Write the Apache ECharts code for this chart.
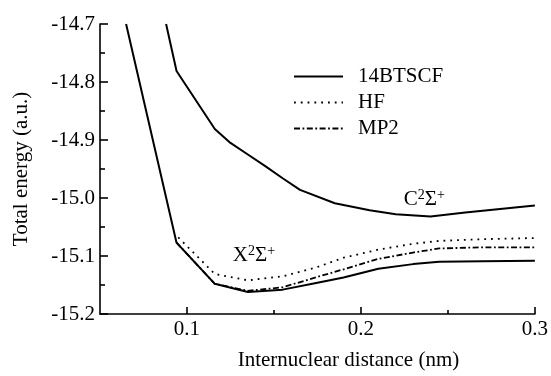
<!DOCTYPE html>
<html>
<head>
<meta charset="utf-8">
<script src="https://cdn.jsdelivr.net/npm/echarts@6/dist/echarts.min.js"></script>
<style>
html,body{margin:0;padding:0;background:#fff;}
#c{width:551px;height:376px;}
</style>
</head>
<body>
<div id="c"></div>
<script>
// ---- data ----
var xBTX = [0.065, 0.094, 0.116, 0.135, 0.155, 0.175, 0.19, 0.21, 0.23, 0.245, 0.27, 0.30];
var yBTX = [-14.70, -15.077, -15.148, -15.162, -15.158, -15.146, -15.137, -15.122, -15.114, -15.110, -15.109, -15.108];
var xHF  = [0.095, 0.116, 0.135, 0.155, 0.175, 0.19, 0.21, 0.23, 0.245, 0.27, 0.30];
var yHF  = [-15.068, -15.131, -15.142, -15.135, -15.119, -15.103, -15.089, -15.079, -15.074, -15.071, -15.069];
var xMP2 = [0.094, 0.116, 0.135, 0.155, 0.175, 0.19, 0.21, 0.23, 0.245, 0.27, 0.30];
var yMP2 = [-15.077, -15.148, -15.160, -15.154, -15.136, -15.123, -15.105, -15.094, -15.087, -15.085, -15.085];
var xBTC = [0.088, 0.094, 0.116, 0.125, 0.135, 0.145, 0.155, 0.165, 0.185, 0.205, 0.22, 0.24, 0.26, 0.28, 0.30];
var yBTC = [-14.70, -14.781, -14.881, -14.905, -14.925, -14.945, -14.966, -14.986, -15.009, -15.021, -15.028, -15.032, -15.025, -15.019, -15.013];
var xMajorTicks = [0.1, 0.2, 0.3];
var xMinorTicks = [0.15, 0.25];
var seriesNames = ['14BTSCF', 'HF', 'MP2'];
var stateLabels = [{text: 'X{s|2}Σ{s|+}', at: [0.1385, -15.099]}, {text: 'C{s|2}Σ{s|+}', at: [0.2365, -15.003]}];

function pairs(xs, ys){ return xs.map(function(x,i){ return [x, ys[i]]; }); }

var FONT = 'Liberation Serif';
var FS = 21;
var chart = echarts.init(document.getElementById('c'));
var axisLine = {show: true, onZero: false, lineStyle: {color: '#000', width: 1.6}};
function stateMark(lbl){
  return {coord: lbl.at, symbol: 'circle', symbolSize: 0,
    label: {show: true, position: 'inside', formatter: lbl.text, color: '#000',
      fontFamily: FONT, fontSize: FS, lineHeight: 23,
      rich: {s: {fontSize: 14, fontFamily: FONT, verticalAlign: 'top', lineHeight: 23, color: '#000'}}}};
}
chart.setOption({
  animation: false,
  backgroundColor: '#fff',
  color: ['#000', '#000', '#000'],
  grid: {left: 100, right: 13, top: 24, bottom: 59, containLabel: false},
  legend: {
    left: 293, top: 66, padding: 0, orient: 'vertical', itemWidth: 49, itemHeight: 14, itemGap: 5,
    data: seriesNames, selectedMode: false,
    itemStyle: {opacity: 0},
    textStyle: {fontFamily: FONT, fontSize: FS, color: '#000', lineHeight: 21, padding: [0, 0, 0, 10]}
  },
  xAxis: [{
    type: 'value', min: 0.05, max: 0.3, position: 'bottom',
    name: 'Internuclear distance (nm)', nameLocation: 'middle', nameGap: 36,
    nameTextStyle: {fontFamily: FONT, fontSize: FS, color: '#000', padding: [0, 0, 0, 62]},
    axisLine: axisLine,
    axisTick: {show: true, inside: true, length: 7, customValues: xMajorTicks, lineStyle: {color: '#000', width: 1.6}},
    axisLabel: {customValues: xMajorTicks, margin: 5, color: '#000', fontFamily: FONT, fontSize: FS,
      formatter: function(v){ return v.toFixed(1); }},
    splitLine: {show: false}
  }, {
    type: 'value', min: 0.05, max: 0.3, position: 'bottom',
    axisLine: {show: false},
    axisTick: {show: true, inside: true, length: 4, customValues: xMinorTicks, lineStyle: {color: '#000', width: 1.6}},
    axisLabel: {show: false},
    splitLine: {show: false}
  }],
  yAxis: {
    type: 'value', min: -15.2, max: -14.7, interval: 0.1,
    name: 'Total energy (a.u.)', nameLocation: 'middle', nameGap: 68, nameRotate: 90,
    nameTextStyle: {fontFamily: FONT, fontSize: FS, color: '#000'},
    axisLine: axisLine,
    axisTick: {show: true, inside: true, length: 8, lineStyle: {color: '#000', width: 1.6}},
    minorTick: {show: true, splitNumber: 2, length: 5, lineStyle: {color: '#000', width: 1.6}},
    axisLabel: {margin: 5, color: '#000', fontFamily: FONT, fontSize: FS,
      formatter: function(v){ return v.toFixed(1); }},
    splitLine: {show: false}
  },
  series: [
    {name: seriesNames[1], type: 'line', data: pairs(xHF, yHF), symbol: 'none', clip: true,
      itemStyle: {color: '#000'},
      lineStyle: {color: '#000', width: 1.8, type: [1.8, 5], cap: 'butt'}},
    {name: seriesNames[2], type: 'line', data: pairs(xMP2, yMP2), symbol: 'none', clip: true,
      itemStyle: {color: '#000'},
      lineStyle: {color: '#000', width: 1.8, type: [6, 2.5, 1.8, 2.5], cap: 'butt'}},
    {name: seriesNames[0], type: 'line', data: pairs(xBTX, yBTX), symbol: 'none', clip: true,
      itemStyle: {color: '#000'},
      lineStyle: {color: '#000', width: 2, type: 'solid'},
      markPoint: {data: [stateMark(stateLabels[0])], animation: false}},
    {name: seriesNames[0], type: 'line', data: pairs(xBTC, yBTC), symbol: 'none', clip: true,
      itemStyle: {color: '#000'},
      lineStyle: {color: '#000', width: 2, type: 'solid'},
      markPoint: {data: [stateMark(stateLabels[1])], animation: false}}
  ]
});
</script>
</body>
</html>
